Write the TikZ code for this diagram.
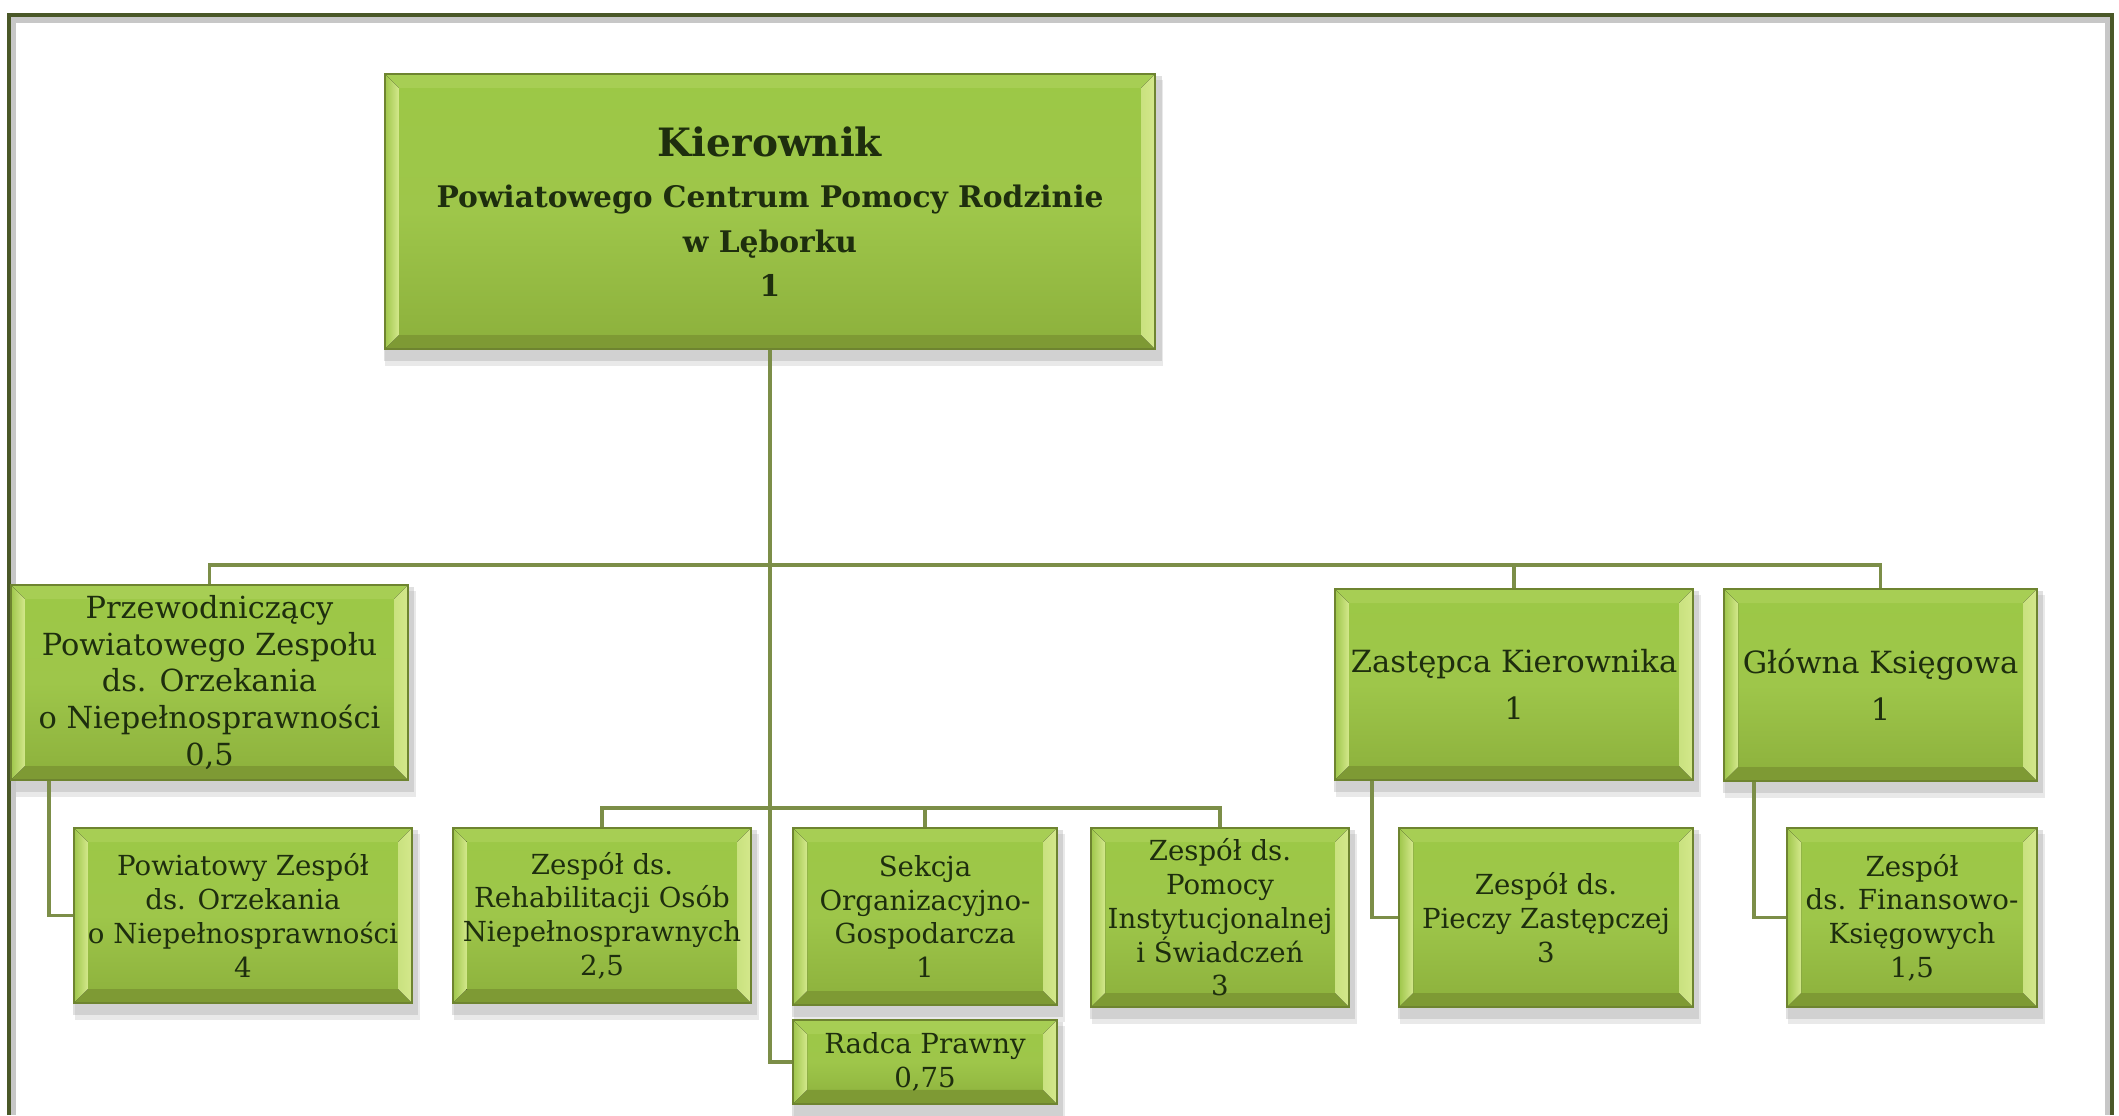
\documentclass[tikz,border=0pt]{standalone}
\usepackage{fontspec}
\setmainfont{DejaVu Serif}
\usetikzlibrary{backgrounds}

\definecolor{boxtop}{RGB}{156,200,70}
\definecolor{boxmid}{RGB}{158,198,74}
\definecolor{boxbot}{RGB}{140,176,60}
\definecolor{boxlight}{RGB}{212,232,140}
\definecolor{boxdark}{RGB}{126,154,52}
\definecolor{boxrim}{RGB}{110,132,48}
\definecolor{linkgreen}{RGB}{124,142,72}
\definecolor{framegreen}{RGB}{74,88,40}
\definecolor{inktext}{RGB}{30,46,14}

\begin{document}
\begin{tikzpicture}[x=0.01cm, y=-0.01cm,
    unitbox/.style={draw=boxrim, line width=0.6pt, top color=boxtop, bottom color=boxbot, middle color=boxmid,
      align=center, inner sep=0pt, text=inktext, font=\fontsize{7.85}{9.6}\selectfont,
      path picture={
        \coordinate (pnw) at (path picture bounding box.north west);
        \coordinate (pne) at (path picture bounding box.north east);
        \coordinate (psw) at (path picture bounding box.south west);
        \coordinate (pse) at (path picture bounding box.south east);
        \fill[boxtop!80!boxlight] (pnw) -- ([xshift=4pt,yshift=-4pt]pnw) -- ([xshift=-4pt,yshift=-4pt]pne) -- (pne) -- cycle;
        \fill[boxdark] (psw) -- ([xshift=4pt,yshift=4pt]psw) -- ([xshift=-4pt,yshift=4pt]pse) -- (pse) -- cycle;
        \fill[left color=boxmid, right color=boxlight] (pnw) -- ([xshift=4pt,yshift=-4pt]pnw) -- ([xshift=4pt,yshift=4pt]psw) -- (psw) -- cycle;
        \fill[left color=boxlight!80!boxmid, right color=boxlight] (pne) -- ([xshift=-4pt,yshift=-4pt]pne) -- ([xshift=-4pt,yshift=4pt]pse) -- (pse) -- cycle;
      }},
    link/.style={draw=linkgreen, line width=1.1pt}]
  \useasboundingbox (0,0) rectangle (2119,1115);

  % ramka
  \draw[black!22, line width=1.8pt] (13,1115) -- (13,20) -- (2108,20) -- (2108,1115);
  \draw[framegreen, line width=1.2pt] (9,1115) -- (9,15) -- (2112,15) -- (2112,1115);

  % kierownik
  \node (chief)[unitbox, minimum width=7.70cm, minimum height=2.75cm, font=\fontsize{8.45}{12.6}\bfseries\selectfont] at (770,211.5)
    {\fontsize{11.1}{13}\selectfont Kierownik\\[2pt]
     Powiatowego Centrum Pomocy Rodzinie\\ w Lęborku\\ 1};

  % drugi poziom
  \node (przew)[unitbox, minimum width=3.97cm, minimum height=1.95cm, font=\fontsize{8.65}{10.5}\selectfont] at (209.5,682.5)
    {Przewodniczący\\ Powiatowego Zespołu\\ ds. Orzekania\\ o Niepełnosprawności\\ 0,5};
  \node (zast)[unitbox, minimum width=3.58cm, minimum height=1.91cm, font=\fontsize{8.7}{10.5}\selectfont] at (1514,684.5)
    {Zastępca Kierownika\\[3pt] 1};
  \node (glowna)[unitbox, minimum width=3.13cm, minimum height=1.92cm, font=\fontsize{8.7}{10.5}\selectfont] at (1880.5,685)
    {Główna Księgowa\\[3pt] 1};

  % trzeci poziom
  \node (orzek)[unitbox, minimum width=3.38cm, minimum height=1.75cm] at (243,915.5)
    {Powiatowy Zespół\\ ds. Orzekania\\ o Niepełnosprawności\\ 4};
  \node (rehab)[unitbox, minimum width=2.98cm, minimum height=1.75cm] at (602,915.5)
    {Zespół ds.\\ Rehabilitacji Osób\\ Niepełnosprawnych\\ 2,5};
  \node (sekcja)[unitbox, minimum width=2.64cm, minimum height=1.77cm] at (925,916.5)
    {Sekcja\\ Organizacyjno-\\ Gospodarcza\\ 1};
  \node (pomoc)[unitbox, minimum width=2.58cm, minimum height=1.79cm] at (1220,917.5)
    {Zespół ds.\\ Pomocy\\ Instytucjonalnej\\ i Świadczeń\\ 3};
  \node (radca)[unitbox, minimum width=2.64cm, minimum height=0.84cm] at (925,1062)
    {Radca Prawny\\ 0,75};
  \node (piecz)[unitbox, minimum width=2.94cm, minimum height=1.79cm] at (1546,917.5)
    {Zespół ds.\\ Pieczy Zastępczej\\ 3};
  \node (finans)[unitbox, minimum width=2.50cm, minimum height=1.79cm] at (1912,917.5)
    {Zespół\\ ds. Finansowo-\\ Księgowych\\ 1,5};

  % polaczenia i cienie
  \coordinate (bus) at (770,565);
  \coordinate (bus2) at (770,808);
  \begin{pgfonlayer}{background}
    \foreach \n in {chief,przew,zast,glowna,orzek,rehab,sekcja,pomoc,radca,piecz,finans}{
      \fill[black!35, opacity=0.35] ([xshift=0pt,yshift=-3pt]\n.south west) rectangle ([xshift=1.5pt,yshift=-1pt]\n.north east);
      \fill[black!35, opacity=0.25] ([xshift=0.5pt,yshift=-4.5pt]\n.south west) rectangle ([xshift=2pt,yshift=-2pt]\n.north east);
    }
    \draw[link] (chief.south) |- (radca.west);
    \draw[link] (przew.north) |- (bus) -| (glowna.north);
    \draw[link] (bus) -| (zast.north);
    \draw[link] (rehab.north) |- (bus2) -| (pomoc.north);
    \draw[link] (bus2) -| (sekcja.north);
    \draw[link] ([xshift=0.39cm]przew.south west) |- (orzek.west);
    \draw[link] ([xshift=0.38cm]zast.south west) |- (piecz.west);
    \draw[link] ([xshift=0.31cm]glowna.south west) |- (finans.west);
  \end{pgfonlayer}
\end{tikzpicture}
\end{document}
